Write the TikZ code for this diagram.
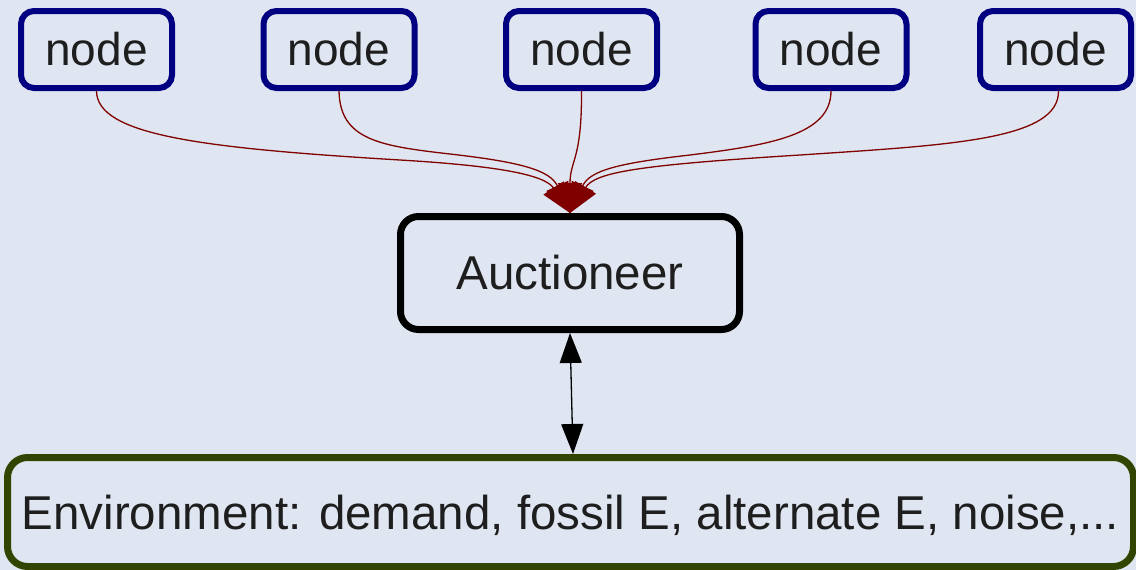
\documentclass[tikz,border=0pt]{standalone}
\usepackage{fontspec}
\setmainfont{Liberation Sans}
\usetikzlibrary{arrows.meta}

\definecolor{paper}{HTML}{DFE6F1}
\definecolor{navy}{HTML}{000080}
\definecolor{olive}{HTML}{334400}
\definecolor{bidred}{HTML}{800000}
\definecolor{ink}{HTML}{1E1E1E}

\tikzset{
  agent/.style={draw=navy, line width=6pt, rounded corners=13pt, fill=paper,
    minimum width=151pt, minimum height=77pt, inner sep=0pt, text=ink,
    font=\fontsize{46}{50}\selectfont},
  hub/.style={draw=black, line width=7pt, rounded corners=18pt, fill=paper,
    minimum width=339pt, minimum height=113pt, inner sep=0pt, text=ink,
    font=\fontsize{47.5}{52}\selectfont},
  world/.style={draw=olive, line width=7pt, rounded corners=20pt, fill=paper,
    minimum width=1126pt, minimum height=109pt, inner sep=0pt, text=ink,
    text depth=0pt, font=\fontsize{47.5}{52}\selectfont},
  bid/.style={draw=bidred, line width=1.3pt,
    -{Triangle[length=30pt,width=24pt,fill=bidred]}},
  link/.style={draw=black, line width=1.3pt,
    {Triangle[length=30pt,width=22pt]}-{Triangle[length=30pt,width=22pt]}}
}

\begin{document}
\begin{tikzpicture}[x=1pt,y=-1pt]
\useasboundingbox (0,0) rectangle (1136,570);
\fill[paper] (0,0) rectangle (1136,570);
\begin{scope}
\clip (0,0) rectangle (1136,570);

% bidding agents
\node[agent] (n1) at (96.5,49.5) {node};
\node[agent] (n2) at (339,49.5) {node};
\node[agent] (n3) at (581.5,49.5) {node};
\node[agent] (n4) at (831,49.5) {node};
\node[agent] (n5) at (1055.5,49.5) {node};

% market clearing and the outside world
\node[hub] (auc) at (570,273) {Auctioneer};
\node[world] (env) at (570.5,512) {Environment: demand, fossil E, alternate E, noise,...};

% bids flowing into the auctioneer
\draw[bid] (n1.south) .. controls (97,135) and (200,148) .. (400,160)
                      .. controls (500,166) and (545,175) .. (auc.north);
\draw[bid] (n2.south) .. controls (340,140) and (380,146) .. (450,154)
                      .. controls (520,162) and (550,170) .. (auc.north);
\draw[bid] (n3.south) .. controls (582,160) and (570,160) .. (auc.north);
\draw[bid] (n4.south) .. controls (831,135) and (770,145) .. (690,155)
                      .. controls (620,163) and (590,170) .. (auc.north);
\draw[bid] ([xshift=3pt]n5.south) .. controls (1059,140) and (950,145) .. (800,155)
                      .. controls (640,165) and (595,172) .. (auc.north);

% exchange with the environment
\draw[link] (auc.south) -- ([xshift=2.5pt]env.north);
\end{scope}
\end{tikzpicture}
\end{document}
